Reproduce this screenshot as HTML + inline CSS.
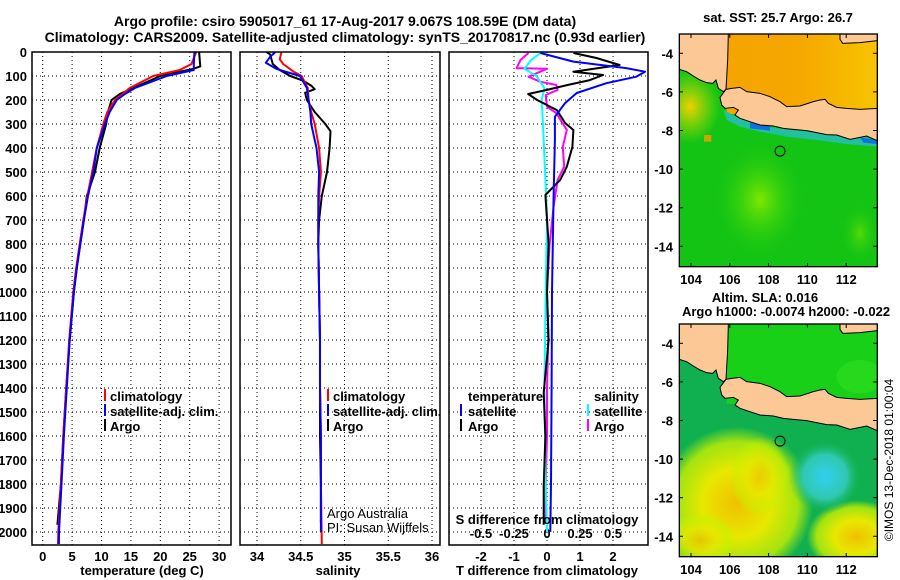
<!DOCTYPE html>
<html><head><meta charset="utf-8"><style>
html,body{margin:0;padding:0;background:#fff;}
svg{display:block;font-family:"Liberation Sans",Arial,sans-serif;}
.b{font-weight:bold;font-size:13px;}
</style></head><body>
<svg id="chart" width="900" height="580" viewBox="0 0 900 580">
<rect width="900" height="580" fill="#fff"/>
<text x="345" y="26" text-anchor="middle" class="b" style="font-size:14px">Argo profile: csiro 5905017_61 17-Aug-2017 9.067S 108.59E (DM data)</text>
<text x="345" y="42" text-anchor="middle" class="b" style="font-size:14px">Climatology: CARS2009. Satellite-adjusted climatology: synTS_20170817.nc (0.93d earlier)</text>

<defs>
<clipPath id="c1"><rect x="32" y="52" width="199" height="493"/></clipPath>
<clipPath id="c2"><rect x="240" y="52" width="200" height="493"/></clipPath>
<clipPath id="c3"><rect x="449" y="52" width="199" height="493"/></clipPath>
<clipPath id="mc"><rect x="58" y="102" width="594" height="698"/></clipPath>
<radialGradient id="g1"><stop offset="0" stop-color="#80e800"/><stop offset="1" stop-color="#14c814" stop-opacity="0"/></radialGradient>
<linearGradient id="js" x1="0" x2="1"><stop offset="0" stop-color="#f5a400"/><stop offset="0.5" stop-color="#f5a800"/><stop offset="1" stop-color="#f8c400"/></linearGradient>
<radialGradient id="yl"><stop offset="0" stop-color="#f0c000"/><stop offset="0.45" stop-color="#e8e800"/><stop offset="0.8" stop-color="#c8f000" stop-opacity="0.8"/><stop offset="1" stop-color="#c0f000" stop-opacity="0"/></radialGradient>
<radialGradient id="cy"><stop offset="0" stop-color="#30d0f0"/><stop offset="0.6" stop-color="#30c8b0"/><stop offset="1" stop-color="#10b050" stop-opacity="0"/></radialGradient>
<radialGradient id="yw"><stop offset="0" stop-color="#f0d000"/><stop offset="1" stop-color="#b8e000" stop-opacity="0"/></radialGradient>
</defs>

<g id="panels"></g>

<g class="b">
<rect x="104" y="389" width="2" height="12" fill="#f00"/><text x="110" y="401">climatology</text>
<rect x="104" y="404" width="2" height="12" fill="#00f"/><text x="110" y="416">satellite-adj. clim.</text>
<rect x="104" y="419" width="2" height="12" fill="#000"/><text x="110" y="431">Argo</text>
</g>
<g class="b">
<rect x="327" y="389" width="2" height="12" fill="#f00"/><text x="333" y="401">climatology</text>
<rect x="327" y="404" width="2" height="12" fill="#00f"/><text x="333" y="416">satellite-adj. clim.</text>
<rect x="327" y="419" width="2" height="12" fill="#000"/><text x="333" y="431">Argo</text>
</g>
<g class="b">
<text x="468" y="401">temperature</text>
<rect x="460" y="404" width="2" height="12" fill="#00f"/><text x="468" y="416">satellite</text>
<rect x="460" y="419" width="2" height="12" fill="#000"/><text x="468" y="431">Argo</text>
<text x="594" y="401">salinity</text>
<rect x="587" y="404" width="2" height="12" fill="#0ff"/><text x="594" y="416">satellite</text>
<rect x="587" y="419" width="2" height="12" fill="#f0f"/><text x="594" y="431">Argo</text>
</g>
<text x="327" y="518" style="font-size:13px">Argo Australia</text>
<text x="327" y="532" style="font-size:13px">PI: Susan Wijffels</text>
<text x="547" y="524" text-anchor="middle" class="b">S difference from climatology</text>

<text x="142" y="575" text-anchor="middle" class="b">temperature (deg C)</text>
<text x="338" y="575" text-anchor="middle" class="b">salinity</text>
<text x="547" y="575" text-anchor="middle" class="b">T difference from climatology</text>

<text x="778" y="22" text-anchor="middle" class="b">sat. SST: 25.7 Argo: 26.7</text>
<text x="765" y="302" text-anchor="middle" class="b">Altim. SLA: 0.016</text>
<text x="786" y="316" text-anchor="middle" class="b">Argo h1000: -0.0074 h2000: -0.022</text>
<text transform="translate(893,460) rotate(-90)" text-anchor="middle" style="font-size:12px">©IMOS 13-Dec-2018 01:00:04</text>

<g transform="translate(660,0) scale(0.33333)">
<g clip-path="url(#mc)">
<rect x="58" y="102" width="594" height="698" fill="#14c414"/>
<ellipse cx="300" cy="600" rx="140" ry="180" fill="url(#g1)"/>
<ellipse cx="600" cy="700" rx="60" ry="90" fill="url(#g1)" opacity="0.6"/>
<rect x="200" y="102" width="452" height="240" fill="url(#js)"/>
<ellipse cx="90" cy="320" rx="90" ry="110" fill="url(#yw)"/>
<polygon points="190,330 240,355 300,378 380,388 440,395 520,406 620,412 652,424 652,440 560,432 470,420 380,410 300,395 240,380 200,360" fill="#20c0a0"/>
<polygon points="270,368 330,378 330,392 270,385" fill="#1070e0"/>
<polygon points="600,412 652,420 652,432 610,428" fill="#1070e0"/>
<rect x="132" y="405" width="22" height="20" fill="#f0a000" opacity="0.8"/>
</g>
</g>
<g transform="translate(660,290) scale(0.33333)">
<g clip-path="url(#mc)">
<rect x="58" y="102" width="594" height="698" fill="#10b050"/>
<rect x="200" y="102" width="452" height="240" fill="#18d018"/>
<ellipse cx="600" cy="260" rx="70" ry="50" fill="#30e020" opacity="0.6"/>
<ellipse cx="230" cy="640" rx="230" ry="230" fill="url(#yl)"/>
<ellipse cx="300" cy="560" rx="90" ry="120" fill="url(#yl)" opacity="0.7"/>
<ellipse cx="590" cy="740" rx="150" ry="110" fill="url(#yl)"/>
<ellipse cx="120" cy="750" rx="110" ry="80" fill="url(#yl)" opacity="0.8"/>
<ellipse cx="495" cy="560" rx="110" ry="110" fill="url(#cy)"/>
</g>
</g>
<g id="maplayers"></g>
</svg>
<script>
// ---------- profile data ----------
const tempDepth = [0,50,75,100,150,175,200,250,300,400,500,600,700,800,900,1000,1200,1400,1600,1800,2000,2050];
const tempClim = [26.1,25.3,23.3,18.8,14.8,13.6,12.3,11.0,10.3,9.2,8.4,7.6,6.9,6.3,5.7,5.2,4.5,4.0,3.5,3.1,2.65,2.6];
const tempSat = [25.8,25.7,25.7,21.1,15.7,14.0,12.6,11.4,10.6,9.2,8.6,7.7,7.0,6.4,5.8,5.3,4.6,4.1,3.6,3.2,2.77,2.75];
const argoTDepth = [0,60,70,100,150,175,200,250,300,400,500,600,700,800,900,1000,1200,1400,1600,1800,1970];
const tempArgo = [26.6,26.8,25.6,20.0,15.4,13.1,11.7,11.1,10.8,9.7,8.9,7.5,7.0,6.4,5.8,5.3,4.6,4.0,3.5,3.1,2.5];

const salArgoDepth = [0,10,50,75,100,120,140,155,170,200,250,300,330,400,500,600,700,800,1000,1200,1400,1600,1800,1960];
const salArgo = [34.11,34.15,34.18,34.26,34.38,34.53,34.62,34.66,34.55,34.57,34.66,34.78,34.84,34.83,34.80,34.74,34.71,34.70,34.71,34.72,34.72,34.72,34.73,34.73];
const salClimDepth = [0,30,50,80,100,150,200,250,300,400,500,600,700,800,1000,1200,1400,1600,1800,2050];
const salClim = [34.28,34.26,34.30,34.41,34.51,34.58,34.59,34.62,34.66,34.71,34.73,34.71,34.70,34.70,34.71,34.72,34.72,34.73,34.73,34.74];
const salSatDepth = [0,20,45,70,100,150,200,250,300,400,500,600,700,800,1000,1200,1400,1600,1800,2000];
const salSat = [34.21,34.15,34.10,34.22,34.49,34.57,34.59,34.61,34.62,34.68,34.71,34.70,34.70,34.70,34.71,34.72,34.72,34.73,34.73,34.73];

const tdSatDepth = [4,40,67,82,103,130,171,213,270,367,600,1000,1400,1800,2000];
const tdSat = [-0.2,0.8,2.4,2.97,2.7,1.8,0.9,0.55,0.24,0.24,0.2,0.15,0.14,0.12,0.1];
const tdArgoDepth = [4,25,54,82,96,117,137,158,175,200,242,296,325,395,478,533,596,800,1000,1200,1420,1600,1810,1970];
const tdArgo = [0.8,1.5,2.2,0.8,1.7,1.3,0.64,0,-0.57,-0.3,0.3,0.55,0.8,0.77,0.6,0.4,-0.05,0.05,0.0,0.05,-0.1,-0.05,-0.1,-0.1];
const sdArgoDepth = [4,33,67,70,103,124,137,158,179,228,254,325,395,478,533,645,800,1000,1200,1400,1600,1800,1960];
const sdArgo = [-0.14,-0.2,-0.23,0.0,-0.14,-0.05,0.07,0.08,-0.01,0.0,0.07,0.15,0.12,0.13,0.08,0.05,0.02,0.0,0.01,0.0,0.0,-0.01,-0.01];
const sdSatDepth = [4,33,70,100,150,200,300,686,1000,1400,1800,2000];
const sdSat = [-0.05,-0.12,-0.17,-0.08,-0.02,-0.04,-0.03,0.0,-0.01,-0.02,-0.01,0.0];

const depthTicks = [0,100,200,300,400,500,600,700,800,900,1000,1100,1200,1300,1400,1500,1600,1700,1800,1900,2000];
const tempTicks = [0,5,10,15,20,25,30];
const salTicks = [34,34.5,35,35.5,36];
const salTickLabels = ["34","34.5","35","35.5","36"];
const tdTicks = [-2,-1,0,1,2];
const sdTicks = [-0.5,-0.25,0,0.25,0.5];
const sdTickLabels = ["-0.5","-0.25","0","0.25","0.5"];

const latTicks = [-4,-6,-8,-10,-12,-14];
const lonTicks = [104,106,108,110,112];
const argoLon = 108.59, argoLat = -9.067;

const NS = "http://www.w3.org/2000/svg";
const Y = d => 52 + d * 0.24;
const xT = t => 42.7 + t * 5.88;
const xS = s => 257 + (s - 34) * 87.5;
const xTD = v => 547 + v * 33;
const xSD = v => 547 + v * 132;
function mk(tag, attrs, parent){const e=document.createElementNS(NS,tag);for(const k in attrs)e.setAttribute(k,attrs[k]);parent.appendChild(e);return e;}
const panels = document.getElementById('panels');

function panel(x0, w, clip, name){
  const g = mk('g', {}, panels);
  
  
  const grid = mk('g', {stroke:'#000','stroke-width':1,'stroke-dasharray':'1 3'}, g);
  
  
  depthTicks.forEach(d => { if (d>0) mk('line',{x1:x0,x2:x0+w,y1:Y(d),y2:Y(d)},grid); });
  return {g, grid};
}
function line(g, xs, ds, xf, color, clip, name){
  const pts = xs.map((v,i)=> xf(v).toFixed(1)+','+Y(ds[i]).toFixed(1)).join(' ');
  const p = mk('polyline',{points:pts,fill:'none',stroke:color,'stroke-width':2,'clip-path':'url(#'+clip+')','stroke-linejoin':'round'},g);
  
  
}
function frame(g,x0,w,name){
  const r = mk('rect',{x:x0,y:52,width:w,height:493,fill:'none',stroke:'#000','stroke-width':1.5},g);
  
  
}

let p1 = panel(32,199,'c1','temperature-panel');
tempTicks.forEach(t=>{ mk('line',{x1:xT(t),x2:xT(t),y1:52,y2:545},p1.grid);
  const tx = mk('text',{x:xT(t),y:561,'text-anchor':'middle','class':'b'},p1.g); tx.textContent=t;
    });
depthTicks.forEach(d=>{ const tx=mk('text',{x:27,y:Y(d)+5,'text-anchor':'end','class':'b'},p1.g); tx.textContent=d;
    });
line(p1.g,tempArgo,argoTDepth,xT,'#000','c1','temperature-argo-line');
line(p1.g,tempClim,tempDepth,xT,'#f00','c1','temperature-climatology-line');
line(p1.g,tempSat,tempDepth,xT,'#00f','c1','temperature-satellite-line');
frame(p1.g,32,199,'temperature-panel');

let p2 = panel(240,200,'c2','salinity-panel');
salTicks.forEach((s,i)=>{ mk('line',{x1:xS(s),x2:xS(s),y1:52,y2:545},p2.grid);
  const tx=mk('text',{x:xS(s),y:561,'text-anchor':'middle','class':'b'},p2.g); tx.textContent=salTickLabels[i];
    });
line(p2.g,salArgo,salArgoDepth,xS,'#000','c2','salinity-argo-line');
line(p2.g,salClim,salClimDepth,xS,'#f00','c2','salinity-climatology-line');
line(p2.g,salSat,salSatDepth,xS,'#00f','c2','salinity-satellite-line');
frame(p2.g,240,200,'salinity-panel');

let p3 = panel(449,199,'c3','difference-panel');
tdTicks.forEach(t=>{ mk('line',{x1:xTD(t),x2:xTD(t),y1:52,y2:545},p3.grid);
  const tx=mk('text',{x:xTD(t),y:561,'text-anchor':'middle','class':'b'},p3.g); tx.textContent=t;
    });
sdTicks.forEach((s,i)=>{ const tx=mk('text',{x:xSD(s),y:538,'text-anchor':'middle','class':'b'},p3.g); tx.textContent=sdTickLabels[i];
    });
line(p3.g,sdArgo,sdArgoDepth,xSD,'#f0f','c3','s-diff-argo-line');
line(p3.g,sdSat,sdSatDepth,xSD,'#0ff','c3','s-diff-satellite-line');
line(p3.g,tdArgo,tdArgoDepth,xTD,'#000','c3','t-diff-argo-line');
line(p3.g,tdSat,tdSatDepth,xTD,'#00f','c3','t-diff-satellite-line');
frame(p3.g,449,199,'difference-panel');

const ml = document.getElementById('maplayers');
const lonX = lon => 691 + (lon-104)*19.4;
function landLayer(oy, name){
  const g = mk('g',{transform:'translate(660,'+oy+') scale(0.33333)'},ml);
  
  
  const st = {fill:'#fcc896',stroke:'#000','stroke-width':3,'clip-path':'url(#mc)'};
  mk('polygon',Object.assign({points:'58,102 205,102 203,180 198,268 190,275 175,265 168,240 158,250 140,248 120,240 100,228 80,215 58,208'},st),g);
  mk('polygon',Object.assign({points:'198,268 215,265 240,262 260,275 300,280 330,290 360,305 380,320 420,318 460,305 480,300 495,298 505,310 530,322 560,325 600,328 652,325 652,422 620,408 600,412 570,418 530,405 500,404 470,398 440,392 400,388 370,385 340,378 300,375 270,365 240,355 225,345 235,330 220,322 195,325 185,315 180,292'},st),g);
  mk('polygon',Object.assign({points:'540,102 652,102 652,122 600,128 548,130 540,118'},st),g);
  mk('rect',{x:58,y:102,width:594,height:698,fill:'none',stroke:'#000','stroke-width':4},g);
}
landLayer(0,'sst-map-land');
landLayer(290,'sla-map-land');
[0,290].forEach((oy,k)=>{
  const g = mk('g',{'class':'b'},ml);
  
  
  latTicks.forEach(lat=>{ const y=oy+53.3+(-4-lat)*19.3;
    const t=mk('text',{x:673,y:y+5,'text-anchor':'end'},g); t.textContent=lat;
    mk('line',{x1:679,x2:683,y1:y,y2:y,stroke:'#000'},g); mk('line',{x1:873,x2:877,y1:y,y2:y,stroke:'#000'},g); });
  lonTicks.forEach(lon=>{ const x=lonX(lon);
    const t=mk('text',{x:x,y:oy+284,'text-anchor':'middle'},g); t.textContent=lon;
    mk('line',{x1:x,x2:x,y1:oy+34,y2:oy+38,stroke:'#000'},g); mk('line',{x1:x,x2:x,y1:oy+263,y2:oy+267,stroke:'#000'},g); });
  const c = mk('circle',{cx:lonX(argoLon),cy:oy+53.3+(-4-argoLat)*19.3,r:5,fill:'none',stroke:'#000','stroke-width':1},g);
  
  
});
</script>
</body></html>
